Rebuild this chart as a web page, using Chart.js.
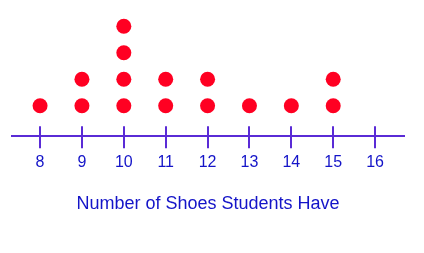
<!DOCTYPE html>
<html lang="en">
<head>
    <meta charset="UTF-8">
    <title>Number of Shoes Students Have - Dot Plot</title>
    <script src="https://cdn.jsdelivr.net/npm/chart.js"></script>
    <style>
        html, body {
            margin: 0;
            padding: 0;
            background: #ffffff;
        }
        .chart-container {
            position: relative;
            width: 424px;
            height: 253px;
        }
    </style>
</head>
<body>
    <div class="chart-container">
        <canvas id="dotChart"></canvas>
    </div>

    <script>
        // Shoe counts and how many students gave each answer
        const shoeCounts = [8, 9, 10, 11, 12, 13, 14, 15, 16];
        const studentCounts = [1, 2, 4, 2, 2, 1, 1, 2, 0];
        const tickLabels = ['8', '9', '10', '11', '12', '13', '14', '15', '16'];

        const axisColor = '#5a2bd6';
        const textColor = '#1414c8';
        const dotColor = '#ff0022';

        // one stacked dot per student
        const points = [];
        shoeCounts.forEach((shoes, i) => {
            for (let k = 1; k <= studentCounts[i]; k++) {
                points.push({ x: shoes, y: k });
            }
        });

        // upper half of the tick marks (the library only draws below the axis)
        const tickTops = {
            id: 'tickTops',
            afterDraw(chart) {
                const xScale = chart.scales.x;
                const ctx = chart.ctx;
                const y0 = chart.chartArea.bottom;
                ctx.save();
                ctx.strokeStyle = axisColor;
                ctx.lineWidth = 2;
                xScale.ticks.forEach(t => {
                    const px = Math.round(xScale.getPixelForValue(t.value));
                    ctx.beginPath();
                    ctx.moveTo(px, y0 - 10);
                    ctx.lineTo(px, y0);
                    ctx.stroke();
                });
                ctx.restore();
            }
        };

        new Chart(document.getElementById('dotChart'), {
            type: 'scatter',
            data: {
                datasets: [{
                    label: 'Students',
                    data: points,
                    backgroundColor: dotColor,
                    borderColor: dotColor,
                    borderWidth: 0,
                    pointRadius: 7.5,
                    pointHoverRadius: 7.5
                }]
            },
            options: {
                responsive: true,
                maintainAspectRatio: false,
                animation: false,
                layout: {
                    padding: { left: 12, right: 20, top: 13, bottom: 38 }
                },
                plugins: {
                    legend: { display: false },
                    tooltip: { enabled: false }
                },
                scales: {
                    x: {
                        type: 'linear',
                        min: 7.33,
                        max: 16.69,
                        border: { display: true, color: axisColor, width: 2 },
                        grid: {
                            drawOnChartArea: false,
                            drawTicks: true,
                            tickLength: 12,
                            color: axisColor,
                            lineWidth: 2
                        },
                        ticks: {
                            stepSize: 1,
                            includeBounds: false,
                            padding: 5,
                            color: textColor,
                            font: { family: 'Liberation Sans, Arial, sans-serif', size: 16 },
                            callback: (value) => {
                                const i = shoeCounts.indexOf(value);
                                return i >= 0 ? tickLabels[i] : '';
                            }
                        },
                        title: {
                            display: true,
                            text: 'Number of Shoes Students Have',
                            color: textColor,
                            font: { family: 'Liberation Sans, Arial, sans-serif', size: 18 },
                            padding: { top: 16, bottom: 0 }
                        }
                    },
                    y: {
                        display: false,
                        min: -0.15,
                        max: 4.5
                    }
                }
            },
            plugins: [tickTops]
        });
    </script>
</body>
</html>
